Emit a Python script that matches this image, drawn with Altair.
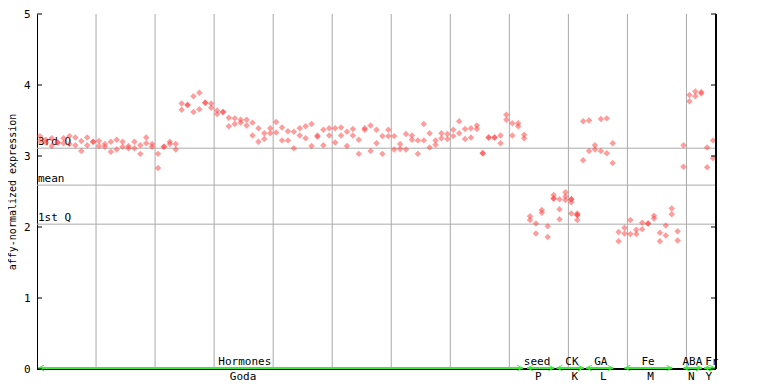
import altair as alt
import pandas as pd

# replicate values per sample (sample index 1..115)
samples = [
    [3.28, 3.21], [3.23, 3.19], [3.25, 3.14], [3.19, 3.19], [3.25, 3.18],
    [3.28, 3.17], [3.26, 3.15], [3.21, 3.07], [3.26, 3.15], [3.20, 3.20],
    [3.21, 3.14], [3.17, 3.13], [3.20, 3.06], [3.23, 3.09], [3.20, 3.13],
    [3.14, 3.11], [3.20, 3.11], [3.15, 3.03], [3.26, 3.18], [3.17, 3.13],
    [3.03, 2.83], [3.13, 3.13], [3.20, 3.17], [3.17, 3.09], [3.74, 3.65],
    [3.72, 3.72], [3.84, 3.62], [3.89, 3.66], [3.75, 3.75], [3.74, 3.68],
    [3.64, 3.59], [3.62, 3.62], [3.54, 3.42], [3.53, 3.45], [3.51, 3.47],
    [3.51, 3.43], [3.47, 3.29], [3.39, 3.20], [3.32, 3.24], [3.39, 3.32],
    [3.48, 3.33], [3.40, 3.22], [3.35, 3.22], [3.34, 3.11], [3.39, 3.29],
    [3.42, 3.25], [3.45, 3.14], [3.29, 3.27], [3.37, 3.15], [3.39, 3.29],
    [3.39, 3.19], [3.40, 3.29], [3.34, 3.14], [3.38, 3.29], [3.23, 3.03],
    [3.39, 3.37], [3.43, 3.07], [3.37, 3.18], [3.28, 3.03], [3.37, 3.28],
    [3.28, 3.09], [3.17, 3.10], [3.31, 3.09], [3.29, 3.23], [3.22, 3.03],
    [3.45, 3.22], [3.32, 3.12], [3.22, 3.16], [3.32, 3.25], [3.31, 3.24],
    [3.37, 3.28], [3.49, 3.32], [3.38, 3.24], [3.39, 3.26], [3.43, 3.38],
    [3.04, 3.04], [3.26, 3.26], [3.26, 3.26], [3.29, 3.18], [3.58, 3.51],
    [3.46, 3.29], [3.46, 3.42], [3.30, 3.25], [2.15, 2.10], [2.05, 1.91],
    [2.24, 2.20], [2.01, 1.86], [2.45, 2.40, 2.40], [2.39, 2.25, 2.11], [2.49, 2.43, 2.38],
    [2.39, 2.39, 2.35, 2.19], [2.19, 2.17, 2.17, 2.10], [3.49, 2.94], [3.50, 3.07], [3.15, 3.09],
    [3.52, 3.07], [3.53, 3.04], [3.18, 2.90], [1.93, 1.80], [1.99, 1.91],
    [2.10, 1.90], [1.96, 1.90], [2.06, 1.97], [2.05, 2.05], [2.16, 2.12],
    [1.92, 1.80], [2.02, 1.88], [2.26, 2.18], [1.94, 1.81], [3.15, 2.85],
    [3.86, 3.77], [3.91, 3.84], [3.90, 3.88], [3.12, 2.84], [3.22, 2.97],
]

# summary lines
stat_names = ["3rd Q", "mean", "1st Q"]
stat_values = [3.11, 2.59, 2.04]

# vertical grid positions (sample index)
grid_x = [10, 20, 30, 40, 50, 60, 70, 80, 90, 100, 110]

# groups: top label, bottom label, start, end, label centre
grp_top = ["Hormones", "seed", "CK", "GA", "Fe", "ABA", "Fr"]
grp_bot = ["Goda", "P", "K", "L", "M", "N", "Y"]
grp_start = [0.2, 83.0, 88.0, 93.0, 99.5, 109.5, 113.0]
grp_end = [82.3, 87.6, 92.6, 97.6, 107.6, 112.6, 114.9]
grp_top_pos = [35.2, 84.7, 90.6, 95.5, 103.5, 111.0, 114.3]
grp_bot_pos = [34.9, 84.9, 91.1, 95.9, 103.9, 110.8, 113.8]

y_ticks = [0, 1, 2, 3, 4, 5]

rows = []
for i, reps in enumerate(samples):
    for v in reps:
        rows.append({"x": i + 0.5, "v": v})
pts = pd.DataFrame(rows)

FONT = "DejaVu Sans Mono"
xs = alt.Scale(domain=[0, 115], nice=False, zero=False)
ys = alt.Scale(domain=[0, 5], nice=False, zero=False)

base_y_axis = alt.Axis(values=y_ticks, format="d", grid=False, ticks=False,
                       domainColor="black", domainWidth=1, labelFlush=False,
                       labelFont=FONT, labelFontSize=11, labelColor="black",
                       labelPadding=7, title="affy-normalized expression",
                       titleFont=FONT, titleFontSize=10, titleFontWeight="normal",
                       titleColor="black", titleX=-21.5, titleY=177.5,
                       titleBaseline="alphabetic", titleAlign="center", titleAngle=270)

grid_df = pd.DataFrame({"g": grid_x})
grid = alt.Chart(grid_df).mark_rule(color="#aaaaaa", strokeWidth=1).encode(
    x=alt.X("g:Q", scale=xs, axis=None),
    y=alt.value(0), y2=alt.value(355))

stat_df = pd.DataFrame({"name": stat_names, "v": stat_values})
stat_lines = alt.Chart(stat_df).mark_rule(color="#aaaaaa", strokeWidth=1).encode(
    y=alt.Y("v:Q", scale=ys, axis=base_y_axis),
    x=alt.value(0), x2=alt.value(679))
stat_text = alt.Chart(stat_df).mark_text(align="left", baseline="bottom", dy=-1,
                                         font=FONT, fontSize=11, color="black").encode(
    y=alt.Y("v:Q", scale=ys), x=alt.value(1), text="name:N")

tick_df = pd.DataFrame({"t": y_ticks})
ticks_left = alt.Chart(tick_df).mark_rule(color="black").encode(
    y=alt.Y("t:Q", scale=ys), x=alt.value(0), x2=alt.value(5))
ticks_right = alt.Chart(tick_df).mark_rule(color="black").encode(
    y=alt.Y("t:Q", scale=ys), x=alt.value(674), x2=alt.value(679))
right_line = alt.Chart(tick_df).mark_rule(color="black").encode(
    x=alt.value(679), y=alt.value(0), y2=alt.value(355))
bottom_line = alt.Chart(tick_df).mark_rule(color="black").encode(
    y=alt.value(355), x=alt.value(0), x2=alt.value(679))

points = alt.Chart(pts).mark_point(shape="diamond", filled=True, size=42,
                                   color="#ff3b3b", opacity=0.5).encode(
    x=alt.X("x:Q", scale=xs), y=alt.Y("v:Q", scale=ys))

grp_df = pd.DataFrame({"top": grp_top, "bot": grp_bot, "s": grp_start, "e": grp_end,
                       "tp": grp_top_pos, "bp": grp_bot_pos})
green_lines = alt.Chart(grp_df).mark_rule(color="#33ee33", strokeWidth=2).encode(
    x=alt.X("s:Q", scale=xs), x2="e:Q", y=alt.value(354))
left_heads = alt.Chart(grp_df).mark_point(shape="M1,-1L-1,0L1,1", size=30, filled=False,
                                          color="#33ee33", strokeWidth=1, opacity=1).encode(
    x=alt.X("s:Q", scale=xs), y=alt.value(354), xOffset=alt.value(3))
right_heads = alt.Chart(grp_df).mark_point(shape="M-1,-1L1,0L-1,1", size=30, filled=False,
                                           color="#33ee33", strokeWidth=1, opacity=1).encode(
    x=alt.X("e:Q", scale=xs), y=alt.value(354), xOffset=alt.value(-3))
top_labels = alt.Chart(grp_df).mark_text(font=FONT, fontSize=11, color="black",
                                         baseline="bottom").encode(
    x=alt.X("tp:Q", scale=xs), y=alt.value(353), text="top:N")
bot_labels = alt.Chart(grp_df).mark_text(font=FONT, fontSize=11, color="black",
                                         baseline="top").encode(
    x=alt.X("bp:Q", scale=xs), y=alt.value(357), text="bot:N")

chart = alt.layer(
    grid, stat_lines, stat_text, bottom_line, green_lines, left_heads, right_heads,
    points, ticks_left, ticks_right, right_line, top_labels, bot_labels
).properties(
    width=679, height=355,
    autosize=alt.AutoSizeParams(type="none"),
    padding={"left": 29, "top": 6, "right": 20, "bottom": 14},
).configure_view(stroke=None)

chart.save("out.html", embed_options={"renderer": "svg", "actions": False})
